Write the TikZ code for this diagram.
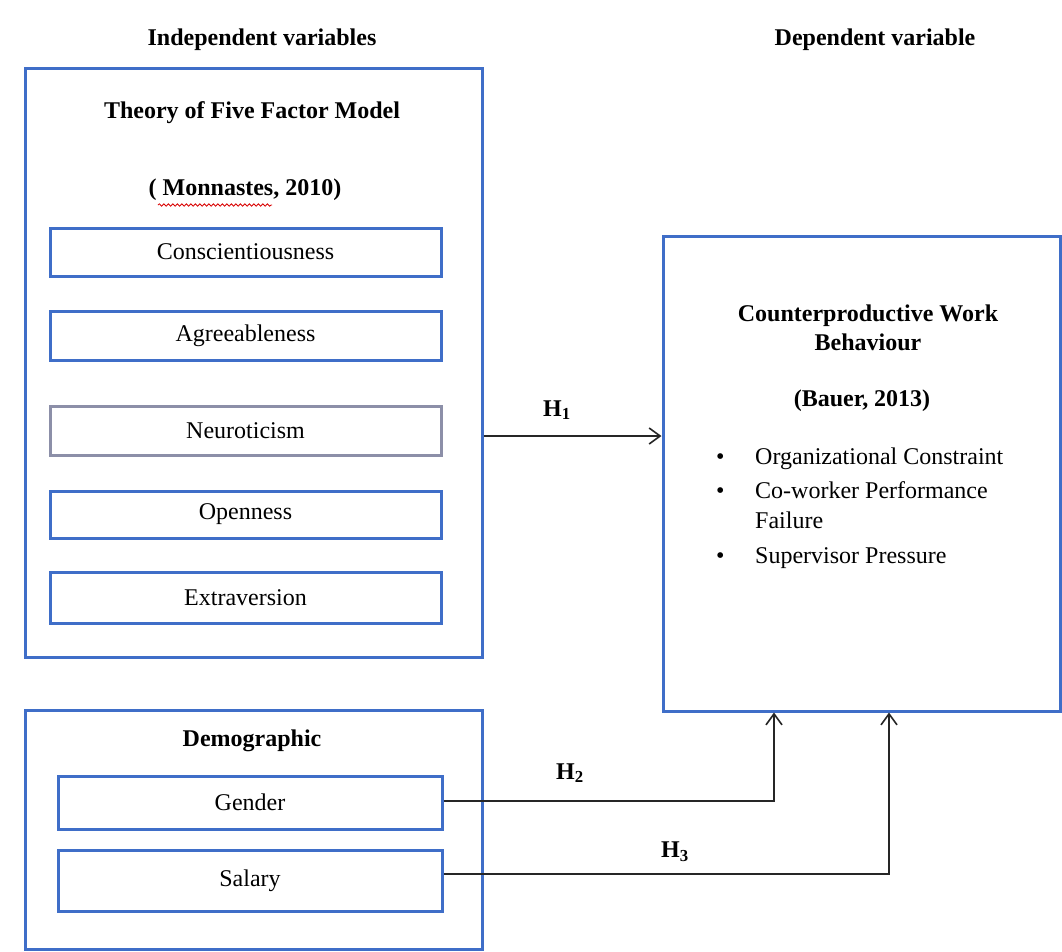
\documentclass[tikz,border=0pt]{standalone}
\usepackage{fontspec}
\setmainfont{Liberation Serif}
\usetikzlibrary{arrows.meta,decorations.pathmorphing,calc}
\definecolor{boxblue}{HTML}{3F6EC8}
\definecolor{neugray}{HTML}{8C8FA8}
\tikzset{
  bigbox/.style={draw=boxblue, line width=3pt, rectangle, inner sep=0pt},
  itembox/.style={draw=boxblue, line width=3pt, rectangle, inner sep=0pt, font=\fontsize{24}{29}\selectfont},
  head/.style={font=\fontsize{24}{29}\selectfont\bfseries, inner sep=0pt},
  txt/.style={font=\fontsize{24}{29}\selectfont, inner sep=0pt},
  link/.style={draw=black!85, line width=2pt, -{Straight Barb[length=11pt,width=16pt,line width=1.6pt]}},
}
\begin{document}
\begin{tikzpicture}[x=1pt,y=-1pt]
\useasboundingbox (0,0) rectangle (1062,951);
\fill[white] (0,0) rectangle (1062,951);

% headings
\node[head] (indep) at (262,40) {Independent variables};
\node[head] (dep) at (875,40) {Dependent variable};

% five factor model box
\node[bigbox, minimum width=457pt, minimum height=589pt] (ffm) at (253.5,362.5) {};
\node[head] (ffmtitle) at (252,113) {Theory of Five Factor Model};
\node[head] (ffmref) at (245,190) {( Monnastes, 2010)};
\draw[red!85!black, line width=0.8pt, decorate, decoration={snake, amplitude=1.2pt, segment length=4.5pt}] (158,205) -- (272,205);

\node[itembox, minimum width=391pt, minimum height=48pt] (consc) at (245.5,252) {Conscientiousness};
\node[itembox, minimum width=391pt, minimum height=49pt] (agree) at (245.5,335.5) {Agreeableness};
\node[itembox, draw=neugray, minimum width=391pt, minimum height=49pt] (neuro) at (245.5,430.5) {Neuroticism};
\node[itembox, minimum width=391pt, minimum height=47pt] (open) at (245.5,514.5) {Openness};
\node[itembox, minimum width=391pt, minimum height=51pt] (extra) at (245.5,597.5) {Extraversion};

% demographic box
\node[bigbox, minimum width=457pt, minimum height=239pt] (demo) at (253.5,829.5) {};
\node[head] (demotitle) at (252,741) {Demographic};
\node[itembox, minimum width=384pt, minimum height=53pt] (gender) at (250,802.5) {Gender};
\node[itembox, minimum width=384pt, minimum height=61pt] (salary) at (250,880.5) {Salary};

% dependent variable box
\node[bigbox, minimum width=397pt, minimum height=475pt] (cwb) at (861.5,473.5) {};
\node[head, align=center] (cwbtitle) at (868,328) {Counterproductive Work\\Behaviour};
\node[head] (cwbref) at (862,401) {(Bauer, 2013)};
\node[txt, anchor=base west] (b1) at (716,464) {\textbullet};
\node[txt, anchor=base west] (t1) at (755,464) {Organizational Constraint};
\node[txt, anchor=base west] (b2) at (716,498) {\textbullet};
\node[txt, anchor=base west] (t2) at (755,498) {Co-worker Performance};
\node[txt, anchor=base west] (t2b) at (755,528) {Failure};
\node[txt, anchor=base west] (b3) at (716,563) {\textbullet};
\node[txt, anchor=base west] (t3) at (755,563) {Supervisor Pressure};

% connectors
\coordinate (h1s) at (ffm.east |- 0,436);
\coordinate (h1e) at (cwb.west |- 0,436);
\draw[link] (h1s) -- (h1e);
\node[head] (h1) at (557,410) {H\textsubscript{1}};

\draw[link] ([yshift=1.5pt]gender.east) -| ([xshift=-87.5pt]cwb.south);
\node[head] (h2) at (570,773) {H\textsubscript{2}};

\draw[link] ([yshift=6.5pt]salary.east) -| ([xshift=27.5pt]cwb.south);
\node[head] (h3) at (675,852) {H\textsubscript{3}};
\end{tikzpicture}
\end{document}
